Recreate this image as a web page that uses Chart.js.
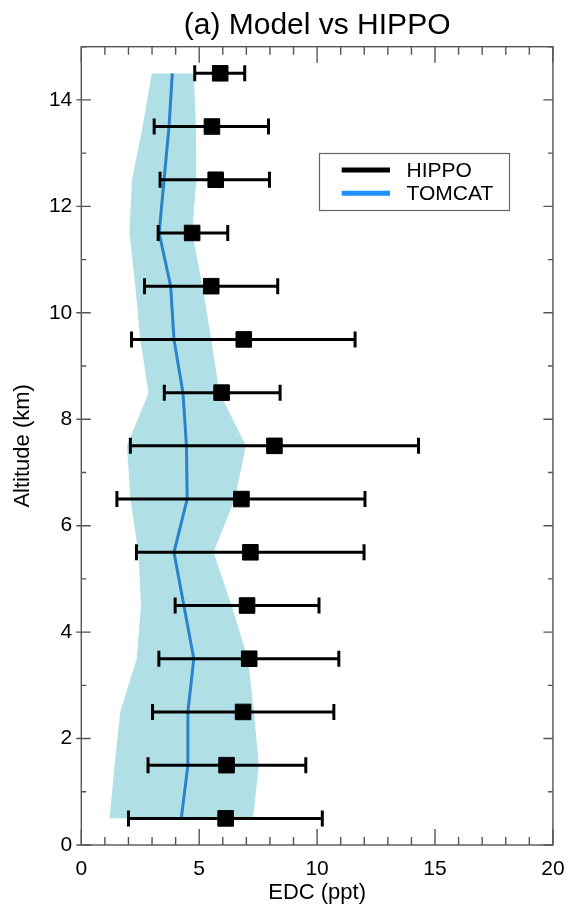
<!DOCTYPE html>
<html lang="en">
<head>
<meta charset="UTF-8">
<title>(a) Model vs HIPPO</title>
<script src="https://cdn.jsdelivr.net/npm/chart.js"></script>
<style>
  html, body { margin: 0; padding: 0; background: #ffffff; }
  .chart-box { width: 576px; height: 913px; position: relative; }
</style>
</head>
<body>
<div class="chart-box"><canvas id="perfil"></canvas></div>
<script>
// Altitude levels (km)
const altitudes = [0.5, 1.5, 2.5, 3.5, 4.5, 5.5, 6.5, 7.5, 8.5, 9.5, 10.5, 11.5, 12.5, 13.5, 14.5];

// HIPPO observations (ppt): mean and error bar ends
const hippoMean = [6.12, 6.16, 6.86, 7.12, 7.03, 7.17, 6.79, 8.19, 5.95, 6.89, 5.51, 4.70, 5.70, 5.54, 5.89];
const hippoLow  = [2.00, 2.83, 3.02, 3.29, 3.98, 2.34, 1.51, 2.08, 3.52, 2.13, 2.68, 3.26, 3.34, 3.09, 4.81];
const hippoHigh = [10.22, 9.52, 10.71, 10.92, 10.08, 11.99, 12.03, 14.30, 8.43, 11.61, 8.33, 6.21, 7.98, 7.94, 6.93];

// TOMCAT model (ppt): mean and shaded range
const tomcatMean = [4.24, 4.52, 4.52, 4.77, 4.35, 3.93, 4.49, 4.46, 4.31, 3.93, 3.79, 3.30, 3.51, 3.72, 3.86];
const tomcatLow  = [1.20, 1.41, 1.65, 2.35, 2.53, 2.42, 2.08, 1.94, 2.85, 2.50, 2.29, 2.04, 2.15, 2.60, 2.99];
const tomcatHigh = [7.28, 7.53, 7.32, 7.07, 6.37, 5.61, 6.51, 6.98, 5.86, 5.51, 5.14, 4.70, 4.88, 4.86, 4.77];

// Axis ticks
const xTicks = [0, 5, 10, 15, 20];
const yTicks = [0, 2, 4, 6, 8, 10, 12, 14];

const seriesNames = ['HIPPO', 'TOMCAT'];
const seriesColors = ['#000000', '#1e90ff'];

const toPoints = (xs) => xs.map((v, i) => ({ x: v, y: altitudes[i] }));

// error bars: lo, hi, gap for each level
const errorPoints = [];
altitudes.forEach((a, i) => {
  errorPoints.push({ x: hippoLow[i], y: a });
  errorPoints.push({ x: hippoHigh[i], y: a });
  errorPoints.push({ x: null, y: a });
});

Chart.defaults.font.family = "'Liberation Sans', Arial, sans-serif";
Chart.defaults.color = '#000000';

// frame with inward ticks on all four sides (IDL style)
const marcoEjes = {
  id: 'marcoEjes',
  afterDraw(chart) {
    const { ctx, chartArea: a, scales } = chart;
    const sx = scales.x, sy = scales.y;
    ctx.save();
    ctx.strokeStyle = '#555555';
    ctx.lineWidth = 1.4;
    ctx.strokeRect(a.left, a.top, a.right - a.left, a.bottom - a.top);
    ctx.beginPath();
    for (let v = sx.min; v <= sx.max; v += 1) {
      const px = sx.getPixelForValue(v);
      const len = (v % 5 === 0) ? 16 : 8;
      ctx.moveTo(px, a.bottom); ctx.lineTo(px, a.bottom - len);
      ctx.moveTo(px, a.top); ctx.lineTo(px, a.top + len);
    }
    for (let v = sy.min; v <= sy.max; v += 1) {
      const py = sy.getPixelForValue(v);
      const major = v % 2 === 0;
      const len = major ? 9.5 : 5;
      ctx.moveTo(a.left - (major ? 5 : 0), py); ctx.lineTo(a.left + len, py);
      ctx.moveTo(a.right, py); ctx.lineTo(a.right - len, py);
    }
    ctx.stroke();
    ctx.restore();
  }
};

// legend box inside the plot
const cajaLeyenda = {
  id: 'cajaLeyenda',
  afterDraw(chart) {
    const ctx = chart.ctx;
    ctx.save();
    ctx.strokeStyle = '#666666';
    ctx.lineWidth = 1.2;
    ctx.strokeRect(319.5, 153.5, 190, 57);
    ctx.font = "21px 'Liberation Sans', Arial, sans-serif";
    ctx.textBaseline = 'alphabetic';
    seriesNames.forEach((name, i) => {
      const y = 170 + i * 23.3;
      ctx.strokeStyle = seriesColors[i];
      ctx.lineWidth = 5;
      ctx.beginPath();
      ctx.moveTo(341.7, y); ctx.lineTo(390, y);
      ctx.stroke();
      ctx.fillStyle = '#000000';
      ctx.fillText(name, 406.5, y + 6.5);
    });
    ctx.restore();
  }
};

new Chart(document.getElementById('perfil'), {
  type: 'line',
  data: {
    datasets: [
      { label: 'TOMCAT low', data: toPoints(tomcatLow), borderWidth: 0, pointRadius: 0, fill: false, order: 5 },
      { label: 'TOMCAT range', data: toPoints(tomcatHigh), borderWidth: 0, pointRadius: 0,
        fill: '-1', backgroundColor: '#b0e0e6', order: 4 },
      { label: 'TOMCAT', data: toPoints(tomcatMean), borderColor: '#2a82c9', borderWidth: 3,
        pointRadius: 0, fill: false, order: 3 },
      { label: 'HIPPO error', data: errorPoints, borderColor: '#000000', borderWidth: 3,
        pointStyle: 'line', pointRotation: 90, pointRadius: 8, pointBorderWidth: 3,
        pointBorderColor: '#000000', spanGaps: false, fill: false, order: 2 },
      { label: 'HIPPO', data: toPoints(hippoMean), showLine: false, pointStyle: 'rect',
        pointRadius: 11, pointBackgroundColor: '#000000', pointBorderColor: '#000000',
        pointBorderWidth: 1, order: 1 }
    ]
  },
  options: {
    indexAxis: 'y',
    responsive: true,
    maintainAspectRatio: false,
    animation: false,
    layout: { padding: { left: 0, right: 17.7, top: 0, bottom: 0 } },
    plugins: {
      legend: { display: false },
      tooltip: { enabled: false },
      title: {
        display: true,
        fullSize: false,
        text: '(a) Model vs HIPPO',
        color: '#000000',
        font: { size: 30, weight: 'normal' },
        padding: { top: 8.2, bottom: 2.5 }
      }
    },
    scales: {
      x: {
        type: 'linear', min: 0, max: 20,
        grid: { display: false, drawTicks: false },
        border: { display: false },
        ticks: { stepSize: 5, padding: 11.4, font: { size: 21 }, color: '#000000' },
        afterBuildTicks: (s) => { s.ticks = xTicks.map(v => ({ value: v })); },
        afterFit: (s) => { s.height = 68; },
        title: { display: true, text: 'EDC (ppt)', font: { size: 22 }, color: '#000000',
                 padding: { top: 0, bottom: 7.3 } }
      },
      y: {
        type: 'linear', min: 0, max: 15,
        grid: { display: false, drawTicks: false },
        border: { display: false },
        ticks: { stepSize: 2, padding: 9, font: { size: 21 }, color: '#000000' },
        afterBuildTicks: (s) => { s.ticks = yTicks.map(v => ({ value: v })); },
        afterFit: (s) => { s.width = 81.3; },
        title: { display: true, text: 'Altitude (km)', font: { size: 22 }, color: '#000000',
                 padding: { top: 9.5, bottom: 0 } }
      }
    }
  },
  plugins: [marcoEjes, cajaLeyenda]
});
</script>
</body>
</html>
